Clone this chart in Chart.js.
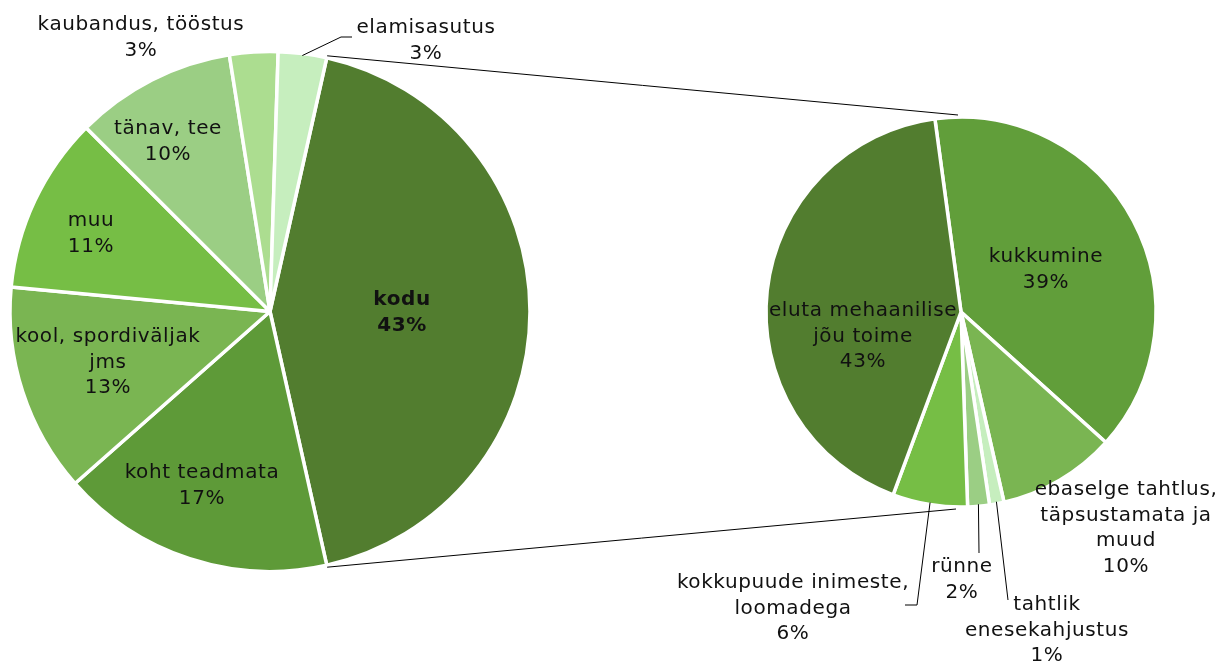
<!DOCTYPE html>
<html><head><meta charset="utf-8">
<script src="https://cdn.jsdelivr.net/npm/chart.js@4"></script>
<style>
html,body{margin:0;padding:0;background:#fff;width:1220px;height:664px;overflow:hidden}
canvas{position:absolute;left:0;top:0}
</style></head>
<body>
<canvas id="c1" width="1220" height="664"></canvas>
<canvas id="c2" width="1220" height="664"></canvas>
<script>
// ---- data ----
const mainCategories = ['kodu','koht teadmata','kool, spordiväljak jms','muu','tänav, tee','kaubandus, tööstus','elamisasutus'];
const mainValues = [43, 17, 13, 11, 10, 3, 3];
const mainPctLabels = ['43%','17%','13%','11%','10%','3%','3%'];
const homeCategories = ['kukkumine','ebaselge tahtlus, täpsustamata ja muud','tahtlik enesekahjustus','rünne','kokkupuude inimeste, loomadega','eluta mehaanilise jõu toime'];
const homeValues = [38.8, 9.8, 1.2, 1.8, 6.2, 42.2];
const homePctLabels = ['39%','10%','1%','2%','6%','43%'];

// ---- style / layout ----
const mainColors = ['#527D2F','#5E9A38','#7AB552','#76BE45','#9BCE84','#ACDD90','#C6EEBE'];
const homeColors = ['#619E3A','#7AB552','#C6EEBE','#9BCE84','#76BE45','#527D2F'];
const mainWrap = [['kodu'],['koht teadmata'],['kool, spordiväljak','jms'],['muu'],['tänav, tee'],['kaubandus, tööstus'],['elamisasutus']];
const homeWrap = [['kukkumine'],['ebaselge tahtlus,','täpsustamata ja','muud'],['tahtlik','enesekahjustus'],['rünne'],['kokkupuude inimeste,','loomadega'],['eluta mehaanilise','jõu toime']];
const mainLabelPos = [[402,300],[202,473],[108,337],[91,221],[168,129],[141,25],[426,28]];
const homeLabelPos = [[1046,257],[1126,490],[1047,605],[962,567],[793,583],[863,311]];
const mainLeaders = {6: [[341,37],[352,37]]};
const homeLeaders = {3: [[979,553]], 2: [[1008,600]], 4: [[917,605],[905,605]]};
const boldIdx = {main: [0], home: []};
const FONT = '"DejaVu Sans", sans-serif';
const FS = 20, LH = 25.5;

function drawLabels(chart, wrap, pcts, pos, leaders, bold) {
  const ctx = chart.ctx;
  const meta = chart.getDatasetMeta(0);
  ctx.save();
  ctx.strokeStyle = '#000';
  ctx.lineWidth = 1;
  Object.keys(leaders).forEach(k => {
    const arc = meta.data[+k];
    const mid = (arc.startAngle + arc.endAngle) / 2;
    const r = arc.outerRadius - 2;
    ctx.beginPath();
    ctx.moveTo(arc.x + r * Math.cos(mid), arc.y + r * Math.sin(mid));
    leaders[k].forEach(p => ctx.lineTo(p[0], p[1]));
    ctx.stroke();
  });
  ctx.fillStyle = '#111';
  ctx.textAlign = 'center';
  ctx.textBaseline = 'middle';
  try { ctx.letterSpacing = '0.6px'; } catch (e) {}
  wrap.forEach((lines, i) => {
    const all = lines.concat([pcts[i]]);
    ctx.font = (bold.includes(i) ? 'bold ' : '') + FS + 'px ' + FONT;
    all.forEach((t, j) => ctx.fillText(t, pos[i][0], pos[i][1] + j * LH));
  });
  ctx.restore();
}

const common = {
  responsive: false,
  animation: false,
  events: [],
  plugins: { legend: { display: false }, tooltip: { enabled: false } }
};

const leftChart = new Chart(document.getElementById('c1'), {
  type: 'pie',
  data: { labels: mainCategories, datasets: [{ data: mainValues, backgroundColor: mainColors, borderColor: '#fff', borderWidth: 3.5, radius: 260 }] },
  options: Object.assign({}, common, {
    rotation: 12.6,
    layout: { padding: { left: 0, right: 680, top: 0, bottom: 41 } }
  }),
  plugins: [{ id: 'lbl1', afterDraw: c => drawLabels(c, mainWrap, mainPctLabels, mainLabelPos, mainLeaders, boldIdx.main) }]
});

const rightChart = new Chart(document.getElementById('c2'), {
  type: 'pie',
  data: { labels: homeCategories, datasets: [{ data: homeValues, backgroundColor: homeColors, borderColor: '#fff', borderWidth: 3.5, radius: 195 }] },
  options: Object.assign({}, common, {
    rotation: -7.7,
    layout: { padding: { left: 761, right: 59, top: 112, bottom: 152 } }
  }),
  plugins: [{ id: 'lbl2', afterDraw: c => {
    // connector lines from the split slice (kodu) to the second pie
    const ctx = c.ctx;
    const kodu = leftChart.getDatasetMeta(0).data[0];
    const meta = c.getDatasetMeta(0);
    const a0 = meta.data[0];
    const R = kodu.outerRadius + 2, r2 = a0.outerRadius + 2;
    ctx.save();
    ctx.strokeStyle = '#000';
    ctx.lineWidth = 1;
    ctx.beginPath();
    ctx.moveTo(kodu.x + R * Math.cos(kodu.startAngle), kodu.y + R * Math.sin(kodu.startAngle));
    ctx.lineTo(a0.x - 3, a0.y - r2);
    ctx.moveTo(kodu.x + R * Math.cos(kodu.endAngle), kodu.y + R * Math.sin(kodu.endAngle));
    ctx.lineTo(a0.x - 5, a0.y + r2);
    ctx.stroke();
    ctx.restore();
    drawLabels(c, homeWrap, homePctLabels, homeLabelPos, homeLeaders, boldIdx.home);
  } }]
});
</script>
</body></html>
